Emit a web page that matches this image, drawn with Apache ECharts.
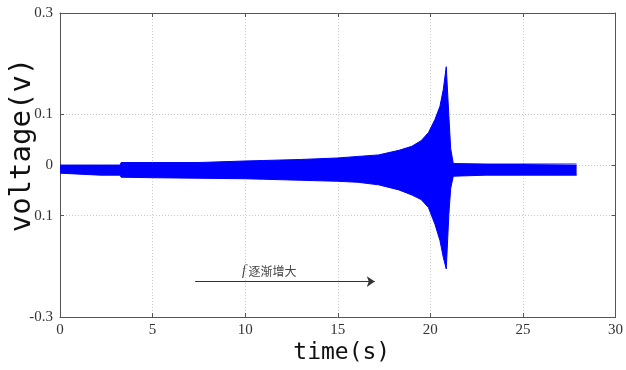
<!DOCTYPE html>
<html>
<head>
<meta charset="utf-8">
<script src="https://cdn.jsdelivr.net/npm/echarts@6/dist/echarts.min.js"></script>
<style>
  html, body { margin: 0; padding: 0; background: #fff; }
  #chart { width: 626px; height: 370px; }
</style>
</head>
<body>
<div id="chart"></div>
<script>
// envelope of the voltage signal (time in s, volts)
const times    = [0, 2.2, 3.25, 3.3, 5, 7.5, 10, 11, 13, 15, 16.1, 17.2, 18.3, 19.0, 19.5, 19.9, 20.25, 20.52, 20.7, 20.86, 21.0, 21.1, 21.24, 21.3, 23, 25, 27.9];
const upperEnv = [0.000, 0.000, 0.000, 0.005, 0.005, 0.005, 0.008, 0.009, 0.011, 0.014, 0.017, 0.020, 0.029, 0.037, 0.048, 0.064, 0.090, 0.116, 0.149, 0.194, 0.097, 0.032, 0.003, 0.002, 0.002, 0.002, 0.002];
const lowerEnv = [-0.016, -0.020, -0.020, -0.024, -0.025, -0.026, -0.027, -0.028, -0.030, -0.032, -0.034, -0.039, -0.049, -0.059, -0.068, -0.084, -0.117, -0.149, -0.182, -0.205, -0.097, -0.046, -0.022, -0.020, -0.020, -0.020, -0.020];

// axis ticks
const xTicks = [0, 5, 10, 15, 20, 25, 30];
const yTickValues = [-0.3, -0.1, 0, 0.1, 0.3];
const yTickLabels = ['-0.3', '0.1', '0', '0.1', '0.3'];   // the picture prints -0.1 as "0.1"
const xGrid = [5, 10, 15, 20, 25];
const yGrid = [0.1, 0, -0.1];

// the "f increases" arrow, in data units
const arrowFrom = [7.3, -0.23];
const arrowTo = [17.0, -0.23];

const chart = echarts.init(document.getElementById('chart'));

const upperData = times.map((t, i) => [t, upperEnv[i]]);
const lowerData = times.map((t, i) => [t, lowerEnv[i]]);

const blue = '#0000ff';
const frame = '#555';
const tickFont = { fontFamily: 'Liberation Serif', fontSize: 15, color: '#333' };

function yLabel(v) {
  const i = yTickValues.findIndex(y => Math.abs(y - v) < 1e-9);
  return i >= 0 ? yTickLabels[i] : '';
}

const xAxisBase = {
  type: 'value', min: 0, max: 30, interval: 5,
  axisLine: { show: true, onZero: false, lineStyle: { color: frame, width: 1 } },
  axisTick: { show: true, inside: true, length: 4, lineStyle: { color: frame } },
  splitLine: { show: false }
};
const yAxisBase = {
  type: 'value', min: -0.3, max: 0.3,
  axisLine: { show: true, onZero: false, lineStyle: { color: frame, width: 1 } },
  axisTick: { show: true, inside: true, length: 4, customValues: yTickValues, lineStyle: { color: frame } },
  splitLine: { show: false }
};

const option = {
  animation: false,
  backgroundColor: '#fff',
  grid: { left: 60, right: 8, top: 13, bottom: 50 },
  xAxis: [
    Object.assign({}, xAxisBase, {
      position: 'bottom',
      axisLabel: Object.assign({ margin: 5, customValues: xTicks }, tickFont),
      name: 'time(s)',
      nameLocation: 'middle',
      nameGap: 24,
      nameTextStyle: { fontFamily: 'DejaVu Sans Mono', fontSize: 23, color: '#111', padding: [0, 0, 0, 8] }
    }),
    Object.assign({}, xAxisBase, { position: 'top', axisLabel: { show: false } })
  ],
  yAxis: [
    Object.assign({}, yAxisBase, {
      position: 'left',
      axisLabel: Object.assign({ margin: 7, customValues: yTickValues, formatter: yLabel }, tickFont)
    }),
    Object.assign({}, yAxisBase, { position: 'right', axisLabel: { show: false } })
  ],
  graphic: [
    {
      type: 'text', x: 22, y: 145, rotation: Math.PI / 2,
      style: {
        text: 'voltage(v)', font: '29px "DejaVu Sans Mono"', fill: '#111',
        textAlign: 'center', textVerticalAlign: 'middle'
      }
    },
    {
      type: 'text', left: 242, top: 264,
      style: {
        text: '{f|f} 逐渐增大',
        font: '12px "Noto Sans CJK SC"', fill: '#444',
        rich: { f: { fontFamily: 'Liberation Serif', fontStyle: 'italic', fontSize: 14, fill: '#444' } }
      }
    }
  ],
  series: [
    {
      // dotted grid behind the signal
      type: 'line', data: [], z: 1, silent: true,
      markLine: {
        z: 0, silent: true, symbol: ['none', 'none'], label: { show: false },
        lineStyle: { color: '#c8c8c8', type: [1, 2], width: 1 },
        data: xGrid.map(x => ({ xAxis: x })).concat(yGrid.map(y => ({ yAxis: y })))
      }
    },
    {
      // annotation arrow
      type: 'line', data: [], z: 3, silent: true,
      markLine: {
        silent: true, symbol: ['none', 'arrow'], symbolSize: 8, label: { show: false },
        lineStyle: { color: '#333', type: 'solid', width: 1 },
        data: [[{ coord: arrowFrom }, { coord: arrowTo }]]
      }
    },
    {
      name: 'upper', type: 'line', data: upperData, z: 2,
      showSymbol: false, symbol: 'none',
      lineStyle: { color: blue, width: 1 },
      areaStyle: { color: blue, opacity: 1 }
    },
    {
      name: 'lower', type: 'line', data: lowerData, z: 2,
      showSymbol: false, symbol: 'none',
      lineStyle: { color: blue, width: 1 },
      areaStyle: { color: blue, opacity: 1 }
    }
  ]
};

chart.setOption(option);
</script>
</body>
</html>
